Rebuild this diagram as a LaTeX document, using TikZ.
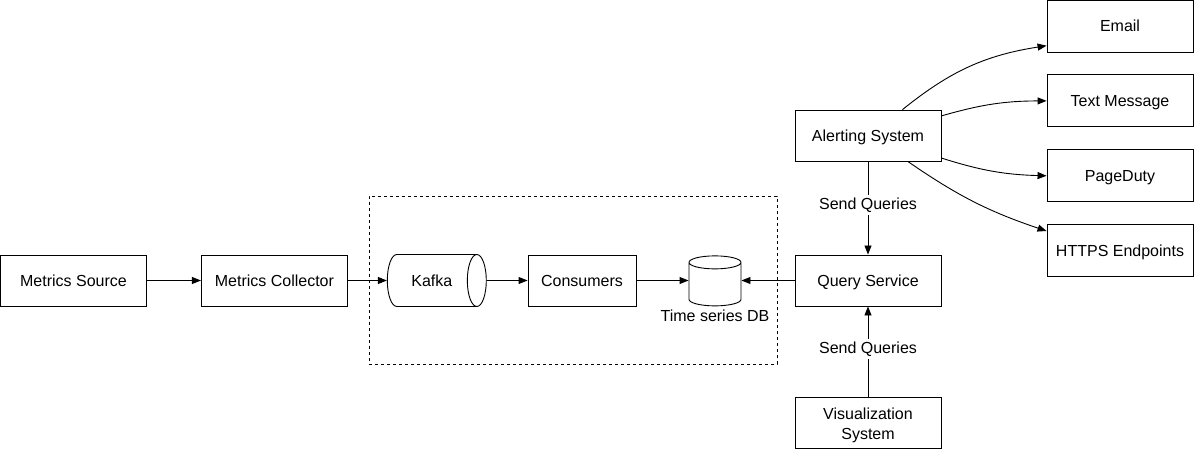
\documentclass[tikz,border=0pt]{standalone}
\usepackage{fontspec}
\setmainfont{Liberation Sans}
\usetikzlibrary{arrows.meta,positioning,shapes.geometric}

\begin{document}
\begin{tikzpicture}[
        x=1pt, y=1pt,
        node distance=22pt and 54pt,
        font=\fontsize{16}{20}\selectfont,
        box/.style={draw, line width=0.9pt, minimum width=146pt, minimum height=51pt, inner sep=0pt, align=center, text height=11.5pt, text depth=0pt},
        queue/.style={draw, line width=0.9pt, cylinder, aspect=1.65, minimum height=99pt, minimum width=52pt, inner sep=0pt, text height=11.5pt, text depth=0pt},
        store/.style={draw, line width=0.9pt, cylinder, shape border rotate=90, aspect=1, minimum height=50pt, minimum width=52pt, inner sep=6.5pt},
        group/.style={draw, dashed, line width=0.9pt, minimum width=408pt, minimum height=168pt},
        tag/.style={fill=white, inner sep=3pt, yshift=3pt},
        arrow/.style={-{Triangle[length=9pt, width=7pt]}, line width=0.9pt}
    ]
    \useasboundingbox (0,0) rectangle (1194,-449);

    \node[group] (stream) at (573,-280) {};

    \node[box] (source) at (73.5,-280.5) {Metrics Source};
    \node[box, right=of source] (collector) {Metrics Collector};
    \node[queue, right=39pt of collector] (kafka) {Kafka};
    \node[box, minimum width=108pt] (consumers) at (582,-280.5) {Consumers};
    \node[store] (tsdb) at (715,-286.5) {};
    \node[below=3pt of tsdb, inner sep=0pt] (tsdblabel) {Time series DB};
    \node[box] (query) at (868,-280.5) {Query Service};
    \node[box, above=93pt of query] (alerting) {Alerting System};
    \node[box, below=91pt of query, text height=31.5pt] (visual) {Visualization\\System};

    \node[box, minimum height=52pt] (email) at (1120,-26) {Email};
    \node[box, minimum height=52pt, below=of email] (sms) {Text Message};
    \node[box, minimum height=52pt, below=of sms] (pager) {PageDuty};
    \node[box, minimum height=52pt, below=of pager] (https) {HTTPS Endpoints};

    \draw[arrow] (source) -- (collector);
    \draw[arrow] (collector) -- (kafka);
    \draw[arrow] (kafka) -- (consumers);
    \draw[arrow] (consumers) -- (consumers -| tsdb.west);
    \draw[arrow] (query) -- (query -| tsdb.east);
    \draw[arrow] (alerting) -- node[tag] {Send Queries} (query);
    \draw[arrow] (visual) -- node[tag] {Send Queries} (query);

    \draw[arrow] (alerting.37) to[bend left=15] (email.195);
    \draw[arrow] (alerting.15) to[bend left=8] (sms.west);
    \draw[arrow] (alerting.-17) to[bend right=8] (pager.west);
    \draw[arrow] (alerting.-33) to[bend right=8] (https.165);
\end{tikzpicture}
\end{document}
